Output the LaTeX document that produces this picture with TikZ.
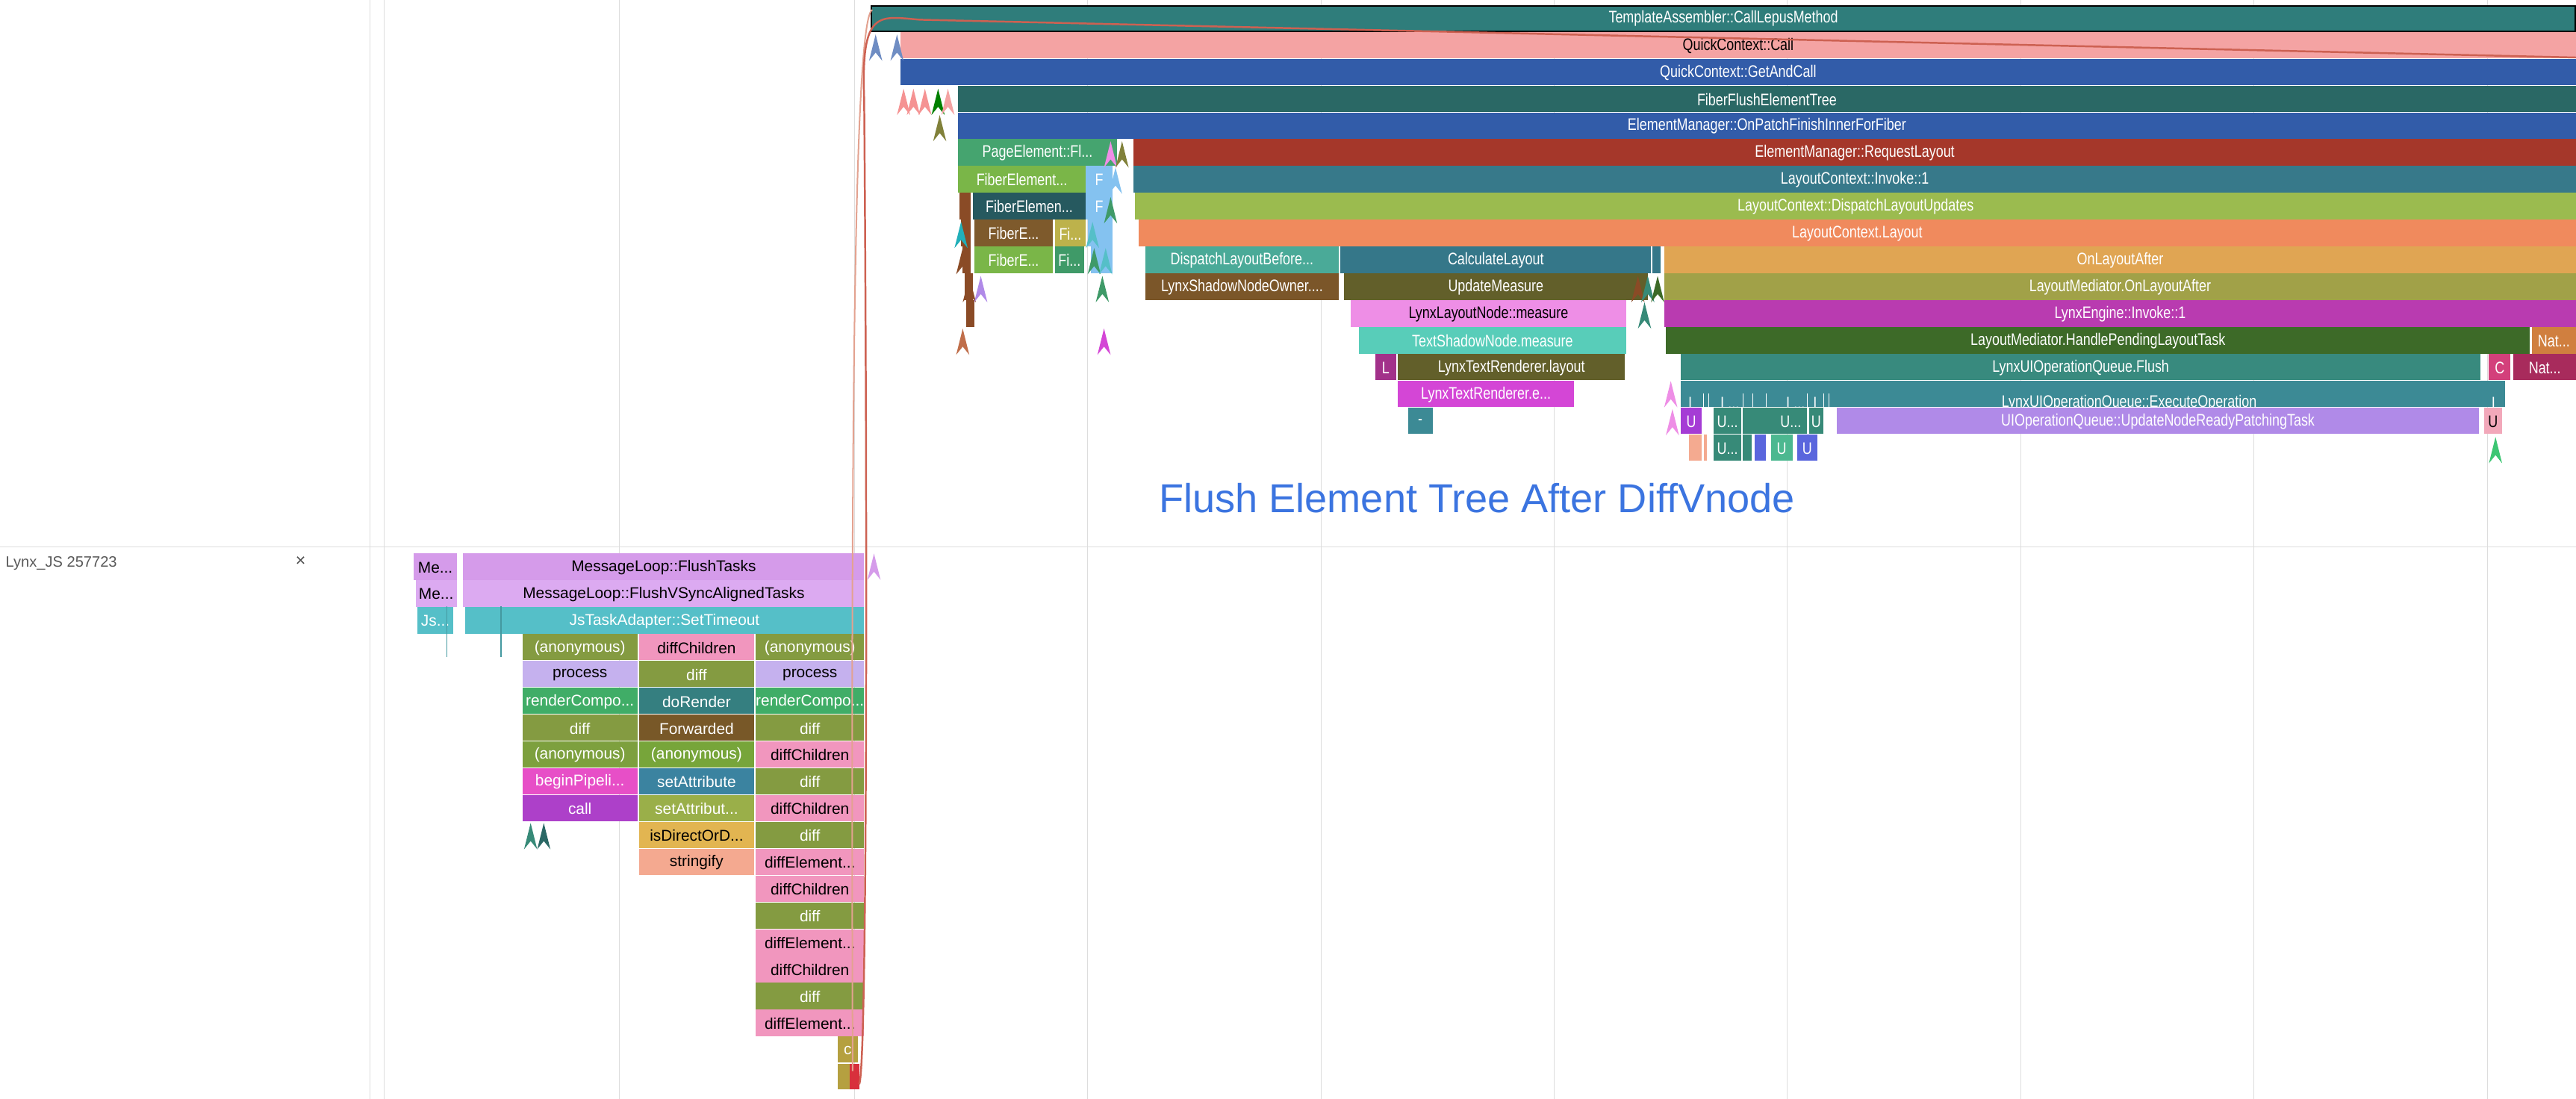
\documentclass[tikz,border=0pt]{standalone}
\usepackage{fontspec}
\setmainfont{Liberation Sans}
\newfontfamily\condf{Liberation Sans}[FakeStretch=0.80]
\def\hexc#1#2{\definecolor{#1}{HTML}{#2}}
\hexc{cTA}{2F7D7B}\hexc{cQC}{F4A3A3}\hexc{cBlue}{325CA9}\hexc{cFFT}{2A6865}
\hexc{cPage}{45A46F}\hexc{cReq}{A5372A}\hexc{cLG}{7AB648}\hexc{cLB}{84C2F0}
\hexc{cInv}{37798A}\hexc{cBrown}{8A4B26}\hexc{cFEt}{26595F}\hexc{cDLU}{9BBB4F}
\hexc{cFB}{7E5A2C}\hexc{cYel}{BDB24B}\hexc{cOrg}{F08A5D}\hexc{cGt}{3F9A68}
\hexc{cDLB}{4AAA98}\hexc{cCL}{357789}\hexc{cOLA}{E0A553}\hexc{cLSN}{7B5629}
\hexc{cUM}{625F2A}\hexc{cLMO}{A1A148}\hexc{cLLN}{EE8EE6}\hexc{cEng}{B93BB0}
\hexc{cTSN}{58CDB9}\hexc{cHPL}{3D6A28}\hexc{cNat}{D07F3F}\hexc{cPurp}{A2318A}
\hexc{cFlush}{388A7E}\hexc{cC}{D3407B}\hexc{cNatt}{A82B5C}\hexc{cTRE}{D446D6}
\hexc{cExec}{3C8A95}\hexc{cU}{A53CD5}\hexc{cUt}{378A78}\hexc{cUN}{B08AE8}
\hexc{cUp}{F2A8BA}\hexc{cPeach}{F4AA90}\hexc{cUg}{4CB890}\hexc{cUb}{5A66DD}
\hexc{cML}{D59BEA}\hexc{cMLt}{DCAAF1}\hexc{cJS}{55BFC8}\hexc{cOl}{849B41}
\hexc{cProc}{C5B1EE}\hexc{cRC}{40AD67}\hexc{cBP}{E74FC7}\hexc{cCall}{AD40C9}
\hexc{cDC}{F196BE}\hexc{cDoR}{357F80}\hexc{cFwd}{785828}\hexc{cSetA}{3B83A0}
\hexc{cSetAt}{9AAF49}\hexc{cIsD}{E2B551}\hexc{cStr}{F4A990}\hexc{cCy}{B5A040}
\hexc{cRed}{D8303C}\hexc{cGrid}{DDDDDD}\hexc{cTitle}{3B74E0}\hexc{cArrow}{CD6152}
\hexc{cArrowL}{E3A290}
\newcommand\tb[6]{%
  \pgfmathsetmacro\fbyt{3+16.35*#3}\pgfmathsetmacro\fbyb{\fbyt+16}%
  \pgfmathsetmacro\fbxm{(#1+#2)/2}\pgfmathsetmacro\fbym{\fbyt+8.4}%
  \fill[#4] (#1,\fbyt) rectangle (#2,\fbyb);
  \node[tlab,text=#6] at (\fbxm,\fbym) {#5};}
\newcommand\bb[6]{%
  \pgfmathsetmacro\fbyt{337+16.33*#3}\pgfmathsetmacro\fbyb{\fbyt+16}%
  \pgfmathsetmacro\fbxm{(#1+#2)/2}\pgfmathsetmacro\fbym{\fbyt+8.4}%
  \fill[#4] (#1,\fbyt) rectangle (#2,\fbyb);
  \node[blab,text=#6] at (\fbxm,\fbym) {#5};}
\newcommand\chev[3]{% x, ytop, color
  \fill[#3] (#1-4,#2+16) -- (#1,#2) -- (#1+4,#2+16) -- (#1,#2+11) -- cycle;}
\tikzset{tlab/.style={font=\condf\fontsize{14.5}{15}\selectfont,inner sep=0pt},
  blab/.style={font=\fontsize{13.5}{14}\selectfont,inner sep=0pt}}
\begin{document}
\begin{tikzpicture}[x=0.5mm,y=-0.5mm]
\useasboundingbox (0,0) rectangle (1568,669);
\fill[white] (0,0) rectangle (1568,669);
% grid
\foreach \gx in {225,234,377,520,662,804,946,1088,1230,1372,1514}
  \draw[cGrid,line width=0.6pt] (\gx,0) -- (\gx,669);
\draw[cGrid,line width=0.8pt] (0,333) -- (1568,333);
\node[anchor=west,text=black!65,font=\fontsize{13}{14}\selectfont] (trk) at (1,343) {Lynx\_JS 257723};
\node[text=black!70,font=\fontsize{15}{15}\selectfont] (cls) at (183,342) {×};
% ---- top flame
\tb{530}{1568}{0}{cTA}{TemplateAssembler::CallLepusMethod}{white}
\draw[black,line width=1.2pt] (530.5,3.5) rectangle (1567.5,19);
\tb{548}{1568}{1}{cQC}{QuickContext::Call}{black}
\tb{548}{1568}{2}{cBlue}{QuickContext::GetAndCall}{white}
\tb{583}{1568}{3}{cFFT}{FiberFlushElementTree}{white}
\tb{583}{1568}{4}{cBlue}{ElementManager::OnPatchFinishInnerForFiber}{white}
\tb{583}{680}{5}{cPage}{PageElement::Fl...}{white}
\tb{690}{1568}{5}{cReq}{ElementManager::RequestLayout}{white}
\tb{583}{661}{6}{cLG}{FiberElement...}{white}
\tb{661}{677}{6}{cLB}{F}{white}
\tb{690}{1568}{6}{cInv}{LayoutContext::Invoke::1}{white}
\tb{584}{591}{7}{cBrown}{}{white}
\tb{592}{661}{7}{cFEt}{FiberElemen...}{white}
\tb{661}{677}{7}{cLB}{F}{white}
\tb{691}{1568}{7}{cDLU}{LayoutContext::DispatchLayoutUpdates}{white}
\tb{585}{591}{8}{cBrown}{}{white}
\tb{593}{641}{8}{cFB}{FiberE...}{white}
\tb{642}{661}{8}{cYel}{Fi...}{white}
\tb{662}{677}{8}{cLB}{}{white}
\tb{693}{1568}{8}{cOrg}{LayoutContext.Layout}{white}
\tb{586}{591}{9}{cBrown}{}{white}
\tb{593}{641}{9}{cLG}{FiberE...}{white}
\tb{642}{660}{9}{cGt}{Fi...}{white}
\tb{664}{677}{9}{cLB}{}{white}
\tb{697}{815}{9}{cDLB}{DispatchLayoutBefore...}{white}
\tb{816}{1005}{9}{cCL}{CalculateLayout}{white}
\tb{1006}{1011}{9}{cCL}{}{white}
\tb{1013}{1568}{9}{cOLA}{OnLayoutAfter}{white}
\tb{587}{592}{10}{cBrown}{}{white}
\tb{697}{815}{10}{cLSN}{LynxShadowNodeOwner....}{white}
\tb{818}{1003}{10}{cUM}{UpdateMeasure}{white}
\tb{1013}{1568}{10}{cLMO}{LayoutMediator.OnLayoutAfter}{white}
\tb{588}{593}{11}{cBrown}{}{white}
\tb{822}{990}{11}{cLLN}{LynxLayoutNode::measure}{black}
\tb{1013}{1568}{11}{cEng}{LynxEngine::Invoke::1}{white}
\tb{827}{990}{12}{cTSN}{TextShadowNode.measure}{white}
\tb{1014}{1540}{12}{cHPL}{LayoutMediator.HandlePendingLayoutTask}{white}
\tb{1541}{1568}{12}{cNat}{Nat...}{white}
\tb{837}{850}{13}{cPurp}{L}{white}
\tb{851}{989}{13}{cUM}{LynxTextRenderer.layout}{white}
\tb{1023}{1510}{13}{cFlush}{LynxUIOperationQueue.Flush}{white}
\tb{1515}{1528}{13}{cC}{C}{white}
\tb{1530}{1568}{13}{cNatt}{Nat...}{white}
\tb{851}{958}{14}{cTRE}{LynxTextRenderer.e...}{white}
\tb{1023}{1525}{14}{cExec}{}{white}
\node[tlab,text=white] at (1296,245.2) {LynxUIOperationQueue::ExecuteOperation};
\node[tlab,text=white] at (1030,245.2) {L};
\node[tlab,text=white] at (1053,245.2) {L...};
\node[tlab,text=white] at (1093,245.2) {L...};
\node[tlab,text=white] at (1106,245.2) {L};
\node[tlab,text=white] at (1519,245.2) {L};
\foreach \sx in {1037,1040,1061,1067,1075,1100,1110,1113}
  \draw[white,line width=0.5pt] (\sx,239.5) -- (\sx,281);
\tb{857}{872}{15}{cExec}{-}{white}
\tb{1023}{1036}{15}{cU}{U}{white}
\tb{1043}{1060}{15}{cUt}{U...}{white}
\tb{1061}{1080}{15}{cUt}{}{white}
\tb{1080}{1100}{15}{cUt}{U...}{white}
\tb{1101}{1110}{15}{cUt}{U}{white}
\tb{1118}{1509}{15}{cUN}{UIOperationQueue::UpdateNodeReadyPatchingTask}{white}
\tb{1512}{1523}{15}{cUp}{U}{black}
\tb{1028}{1036}{16}{cPeach}{}{white}
\tb{1037}{1039}{16}{cPeach}{}{white}
\tb{1043}{1060}{16}{cUt}{U...}{white}
\tb{1061}{1066}{16}{cUt}{}{white}
\tb{1068}{1075}{16}{cUb}{}{white}
\tb{1078}{1091}{16}{cUg}{U}{white}
\tb{1094}{1106}{16}{cUb}{U}{white}
% chevrons
\chev{533}{21}{cBlue!70}
\chev{546}{21}{cBlue!70}
\chev{550}{54}{cQC!90!red}\chev{556}{54}{cQC!90!red}\chev{563}{54}{cQC!90!red}
\chev{571}{54}{green!50!black}\chev{577}{54}{cQC}
\chev{572}{70}{cLMO!80!black}
\chev{676}{86}{cLLN}\chev{683}{86}{cLMO!80!black}
\chev{679}{102}{cLB}\chev{676}{120}{cGt}
\chev{585}{135}{cInv!60!cyan}\chev{665}{135}{cJS}
\chev{586}{151}{cBrown}\chev{666}{151}{cGt}\chev{673}{151}{cJS}
\chev{590}{168}{cBrown}\chev{597}{168}{cUN}\chev{671}{168}{cGt}
\chev{586}{200}{cOrg!80!black}\chev{672}{200}{cTRE}
\chev{997}{168}{cBrown}\chev{1003}{168}{cUt}\chev{1009}{168}{cHPL}
\chev{1001}{184}{cUt}
\chev{1017}{232}{cLLN}\chev{1018}{249}{cLLN}
\chev{1519}{266}{cUg!80!green}
\chev{532}{337}{cML}
\chev{323}{501}{cUt}\chev{331}{501}{cFFT}
% ---- bottom flame
\bb{252}{278}{0}{cML}{Me...}{black}
\bb{282}{526}{0}{cML}{MessageLoop::FlushTasks}{black}
\bb{253}{278}{1}{cMLt}{Me...}{black}
\bb{282}{526}{1}{cMLt}{MessageLoop::FlushVSyncAlignedTasks}{black}
\bb{254}{276}{2}{cJS}{Js...}{white}
\bb{283}{526}{2}{cJS}{JsTaskAdapter::SetTimeout}{white}
\draw[cJS!80!black,line width=0.8pt] (272,369) -- (272,400);
\draw[cJS!80!black,line width=0.8pt] (305,369) -- (305,400);
% column A
\bb{318}{388}{3}{cOl}{(anonymous)}{white}
\bb{318}{388}{4}{cProc}{process}{black}
\bb{318}{388}{5}{cRC}{renderCompo...}{white}
\bb{318}{388}{6}{cOl}{diff}{white}
\bb{318}{388}{7}{cOl!95!green}{(anonymous)}{white}
\bb{318}{388}{8}{cBP}{beginPipeli...}{white}
\bb{318}{388}{9}{cCall}{call}{white}
% column B
\bb{389}{459}{3}{cDC}{diffChildren}{black}
\bb{389}{459}{4}{cOl}{diff}{white}
\bb{389}{459}{5}{cDoR}{doRender}{white}
\bb{389}{459}{6}{cFwd}{Forwarded}{white}
\bb{389}{459}{7}{cOl!90!green}{(anonymous)}{white}
\bb{389}{459}{8}{cSetA}{setAttribute}{white}
\bb{389}{459}{9}{cSetAt}{setAttribut...}{white}
\bb{389}{459}{10}{cIsD}{isDirectOrD...}{black}
\bb{389}{459}{11}{cStr}{stringify}{black}
% column C
\bb{460}{526}{3}{cOl}{(anonymous)}{white}
\bb{460}{526}{4}{cProc}{process}{black}
\bb{460}{526}{5}{cRC}{renderCompo...}{white}
\bb{460}{526}{6}{cOl}{diff}{white}
\bb{460}{526}{7}{cDC}{diffChildren}{black}
\bb{460}{526}{8}{cOl}{diff}{white}
\bb{460}{526}{9}{cDC}{diffChildren}{black}
\bb{460}{526}{10}{cOl}{diff}{white}
\bb{460}{526}{11}{cDC}{diffElement...}{black}
\bb{460}{526}{12}{cDC}{diffChildren}{black}
\bb{460}{526}{13}{cOl}{diff}{white}
\bb{460}{526}{14}{cDC}{diffElement...}{black}
\bb{460}{526}{15}{cDC}{diffChildren}{black}
\bb{460}{526}{16}{cOl}{diff}{white}
\bb{460}{526}{17}{cDC}{diffElement...}{black}
\bb{510}{522}{18}{cCy}{c}{white}
\fill[cCy] (510,647.5) rectangle (517,663);
\fill[cRed] (517,647.5) rectangle (523,663);
% flow arrows
\coordinate (fs) at (519,652);
\coordinate (ft) at (531,6);
\draw[cArrowL,line width=1.3pt] (fs) .. controls (518,300) and (519,10) .. (ft);
\coordinate (fa) at (523,660);
\coordinate (fb) at (1568,35);
\draw[cArrow,line width=1.6pt] (fa) .. controls (528,650) and (528,300) .. (526,60)
  .. controls (524,5) and (535,10) .. (560,12) -- (fb);
% title
\node[text=cTitle,font=\fontsize{35}{36}\selectfont] (title) at (899,303) {Flush Element Tree After DiffVnode};
\end{tikzpicture}
\end{document}
